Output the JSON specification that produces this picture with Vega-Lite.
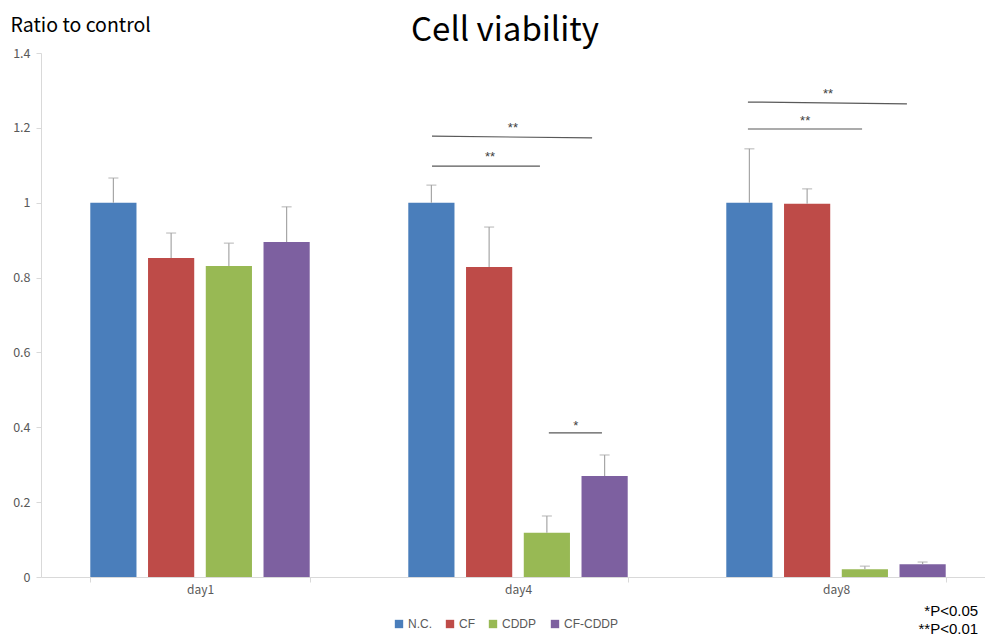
{
  "$schema": "https://vega.github.io/schema/vega-lite/v6.json",
  "width": 954,
  "height": 524,
  "autosize": {"type": "none"},
  "padding": {"left": 41, "top": 53, "right": 0, "bottom": 60},
  "background": "white",
  "title": {"text": "Cell viability", "fontSize": 33, "font": "Noto Sans CJK JP", "fontWeight": "normal", "color": "#000000", "anchor": "middle", "dx": -13, "dy": 39, "offset": 6},
  "config": {"view": {"stroke": null}, "axis": {"grid": false}},
  "datasets": {
    "bars": [
      {"day": "day1", "group": "N.C.", "value": 1.0, "err": 1.066},
      {"day": "day1", "group": "CF", "value": 0.852, "err": 0.919},
      {"day": "day1", "group": "CDDP", "value": 0.831, "err": 0.892},
      {"day": "day1", "group": "CF-CDDP", "value": 0.895, "err": 0.989},
      {"day": "day4", "group": "N.C.", "value": 1.0, "err": 1.047},
      {"day": "day4", "group": "CF", "value": 0.828, "err": 0.935},
      {"day": "day4", "group": "CDDP", "value": 0.118, "err": 0.163},
      {"day": "day4", "group": "CF-CDDP", "value": 0.27, "err": 0.326},
      {"day": "day8", "group": "N.C.", "value": 1.0, "err": 1.144},
      {"day": "day8", "group": "CF", "value": 0.997, "err": 1.037},
      {"day": "day8", "group": "CDDP", "value": 0.021, "err": 0.029},
      {"day": "day8", "group": "CF-CDDP", "value": 0.034, "err": 0.04}
    ],
    "lines": [
      {"x1": 1.2296, "x2": 1.569, "y1": 1.098, "y2": 1.098},
      {"x1": 1.2296, "x2": 1.733, "y1": 1.178, "y2": 1.173},
      {"x1": 1.597, "x2": 1.764, "y1": 0.385, "y2": 0.385},
      {"x1": 2.223, "x2": 2.582, "y1": 1.197, "y2": 1.197},
      {"x1": 2.223, "x2": 2.723, "y1": 1.269, "y2": 1.264}
    ],
    "stars": [
      {"x": 1.412, "y": 1.122, "text": "**"},
      {"x": 1.484, "y": 1.2, "text": "**"},
      {"x": 1.682, "y": 0.403, "text": "*"},
      {"x": 2.403, "y": 1.218, "text": "**"},
      {"x": 2.475, "y": 1.29, "text": "**"}
    ],
    "notes": [
      {"x": 2.947, "y": -0.0908, "text": "*P<0.05"},
      {"x": 2.947, "y": -0.1385, "text": "**P<0.01"}
    ]
  },
  "layer": [
    {
      "data": {"name": "bars"},
      "encoding": {
        "x": {"field": "day", "type": "nominal", "scale": {"paddingInner": 0.31, "paddingOuter": 0.155}, "axis": {"title": null, "labelAngle": 0, "labelFontSize": 12, "labelColor": "#595959", "labelFont": "Noto Sans CJK JP", "domainColor": "#D9D9D9", "tickColor": "#D9D9D9", "tickBand": "extent", "tickSize": 5, "labelPadding": 2}},
        "xOffset": {"field": "group", "type": "nominal", "sort": ["N.C.", "CF", "CDDP", "CF-CDDP"], "scale": {"paddingInner": 0.2, "paddingOuter": 0}}
      },
      "layer": [
        {
          "mark": {"type": "bar"},
          "encoding": {
            "y": {"field": "value", "type": "quantitative", "scale": {"domain": [0, 1.4]}, "axis": {"values": [0, 0.2, 0.4, 0.6, 0.8, 1, 1.2, 1.4], "format": "~g", "title": "Ratio to control", "titleAngle": 0, "titleAlign": "left", "titleBaseline": "middle", "titleX": -31, "titleY": -28, "titleFontSize": 19.5, "titleFontWeight": "normal", "titleFont": "Noto Sans CJK JP", "titleColor": "#000000", "labelFontSize": 12.5, "labelColor": "#595959", "labelFont": "Noto Sans CJK JP", "domainColor": "#D9D9D9", "tickColor": "#D9D9D9", "tickSize": 5, "labelPadding": 6}},
            "color": {"field": "group", "type": "nominal", "sort": ["N.C.", "CF", "CDDP", "CF-CDDP"], "scale": {"domain": ["N.C.", "CF", "CDDP", "CF-CDDP"], "range": ["#4A7EBB", "#BE4B48", "#98B954", "#7D60A0"]}, "legend": {"title": null, "orient": "none", "direction": "horizontal", "legendX": 352, "legendY": 565, "symbolType": "square", "symbolSize": 70, "symbolStrokeWidth": 0, "labelFont": "Liberation Sans", "labelFontSize": 12, "labelColor": "#595959", "labelOffset": 3, "columnPadding": 12}}
          }
        },
        {
          "mark": {"type": "rule", "color": "#A6A6A6", "strokeWidth": 1.2},
          "encoding": {
            "y": {"field": "value", "type": "quantitative"},
            "y2": {"field": "err"}
          }
        },
        {
          "mark": {"type": "tick", "orient": "horizontal", "color": "#A6A6A6", "size": 10, "thickness": 1.2},
          "encoding": {
            "y": {"field": "err", "type": "quantitative"}
          }
        }
      ]
    },
    {
      "layer": [
        {
          "data": {"name": "lines"},
          "mark": {"type": "rule", "color": "#595959", "strokeWidth": 1.2},
          "encoding": {
            "x": {"field": "x1", "type": "quantitative", "scale": {"domain": [0, 3], "nice": false, "zero": false}, "axis": null},
            "x2": {"field": "x2"},
            "y": {"field": "y1", "type": "quantitative"},
            "y2": {"field": "y2"}
          }
        },
        {
          "data": {"name": "stars"},
          "mark": {"type": "text", "fontSize": 13, "color": "#404040", "font": "Liberation Sans", "baseline": "middle", "align": "center"},
          "encoding": {
            "x": {"field": "x", "type": "quantitative"},
            "y": {"field": "y", "type": "quantitative"},
            "text": {"field": "text"}
          }
        },
        {
          "data": {"name": "notes"},
          "mark": {"type": "text", "fontSize": 15, "color": "#000000", "font": "Liberation Sans", "baseline": "middle", "align": "right", "clip": false},
          "encoding": {
            "x": {"field": "x", "type": "quantitative"},
            "y": {"field": "y", "type": "quantitative"},
            "text": {"field": "text"}
          }
        }
      ]
    }
  ],
  "resolve": {"scale": {"x": "independent"}}
}
